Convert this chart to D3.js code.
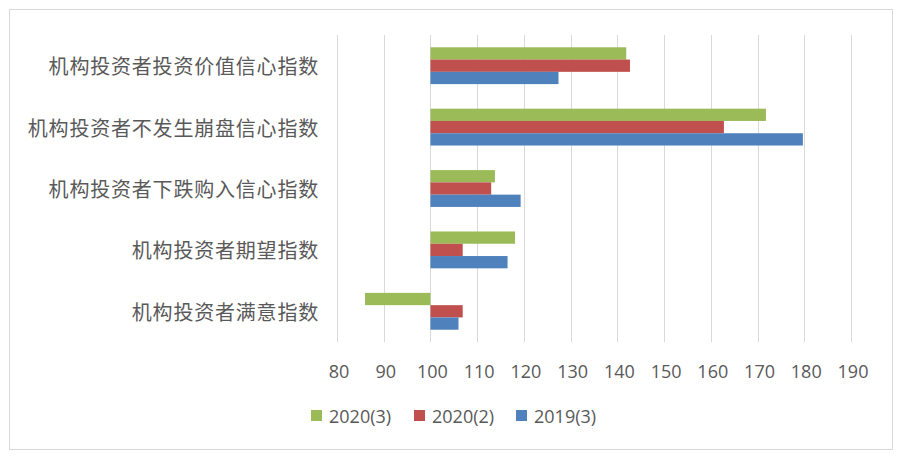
<!DOCTYPE html>
<html>
<head>
<meta charset="utf-8">
<script src="https://cdn.jsdelivr.net/npm/d3@7"></script>
<style>
  body { margin: 0; background: #fff; }
  svg text { fill: #595959; }
</style>
</head>
<body>
<div id="chart"></div>
<script>
// categories top to bottom
const categories = [
  "机构投资者投资价值信心指数",
  "机构投资者不发生崩盘信心指数",
  "机构投资者下跌购入信心指数",
  "机构投资者期望指数",
  "机构投资者满意指数"
];
const seriesNames = ["2020(3)", "2020(2)", "2019(3)"];
const s2020_3 = [141.9, 171.8, 113.8, 118.1, 86.0];
const s2020_2 = [142.7, 162.8, 113.0, 106.9, 106.9];
const s2019_3 = [127.4, 179.7, 119.3, 116.5, 106.0];
const xTicks = [80, 90, 100, 110, 120, 130, 140, 150, 160, 170, 180, 190];
const baseline = 100;

const colors = ["#9bbb59", "#c0504d", "#4f81bd"];
const allSeries = [s2020_3, s2020_2, s2019_3];

const width = 903, height = 461;

const svg = d3.select("#chart").append("svg")
  .attr("width", width)
  .attr("height", height);

// outer border
svg.append("rect")
  .attr("x", 9.5).attr("y", 9.5)
  .attr("width", 883).attr("height", 440)
  .attr("fill", "#fff")
  .attr("stroke", "#d9d9d9");

var x = d3.scaleLinear()
  .domain([80, 190])
  .range([337, 851]);

var y = d3.scaleBand()
  .domain(categories)
  .range([35, 342])
  .paddingInner(0.4)
  .paddingOuter(0.2);

var ySub = d3.scaleBand()
  .domain(seriesNames)
  .range([0, y.bandwidth()]);

// grid
svg.append("g").selectAll("line")
  .data(xTicks)
  .join("line")
    .attr("x1", d => Math.round(x(d)) + 0.5)
    .attr("x2", d => Math.round(x(d)) + 0.5)
    .attr("y1", 35)
    .attr("y2", 342)
    .attr("stroke", "#d9d9d9")
    .attr("stroke-width", 1);

// bars
var rows = [];
categories.forEach(function(c, i) {
  seriesNames.forEach(function(s, j) {
    rows.push({ cat: c, series: s, value: allSeries[j][i], color: colors[j] });
  });
});

svg.append("g").selectAll("rect")
  .data(rows)
  .join("rect")
    .attr("x", d => x(Math.min(d.value, baseline)))
    .attr("y", d => y(d.cat) + ySub(d.series))
    .attr("width", d => Math.abs(x(d.value) - x(baseline)))
    .attr("height", ySub.bandwidth())
    .attr("fill", d => d.color);

// category labels
svg.append("g").selectAll("text")
  .data(categories)
  .join("text")
    .attr("x", 319)
    .attr("y", d => y(d) + y.bandwidth() / 2)
    .attr("text-anchor", "end")
    .attr("dominant-baseline", "central")
    .attr("font-family", "'Noto Sans CJK SC', sans-serif")
    .attr("font-size", 20)
    .attr("letter-spacing", 0.8)
    .text(d => d);

// x axis tick labels
svg.append("g").selectAll("text")
  .data(xTicks)
  .join("text")
    .attr("x", d => x(d) + 2)
    .attr("y", 371)
    .attr("text-anchor", "middle")
    .attr("dominant-baseline", "central")
    .attr("font-family", "'Open Sans', sans-serif")
    .attr("font-size", 18)
    .text(d => d);

// legend
var legendX = [311, 414, 516];
var legend = svg.append("g").selectAll("g")
  .data(seriesNames)
  .join("g")
    .attr("transform", (d, i) => "translate(" + legendX[i] + ",410)");

legend.append("rect")
  .attr("width", 11).attr("height", 11)
  .attr("fill", (d, i) => colors[i]);

legend.append("text")
  .attr("x", 18)
  .attr("y", 6)
  .attr("dominant-baseline", "central")
  .attr("font-family", "'Open Sans', sans-serif")
  .attr("font-size", 18)
  .text(d => d);
</script>
</body>
</html>
